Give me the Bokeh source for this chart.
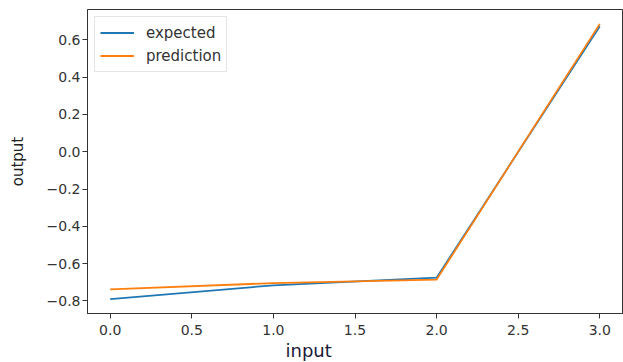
from bokeh.plotting import figure
from bokeh.models import Range1d, FixedTicker, Legend, LegendItem, Title
from bokeh.embed import file_html
from bokeh.resources import INLINE

# data
x_input = [0.0, 1.0, 2.0, 3.0]
expected = [-0.790, -0.716, -0.675, 0.672]
prediction = [-0.738, -0.704, -0.685, 0.685]

x_ticks = [0.0, 0.5, 1.0, 1.5, 2.0, 2.5, 3.0]
x_tick_labels = ["0.0", "0.5", "1.0", "1.5", "2.0", "2.5", "3.0"]
y_ticks = [-0.8, -0.6, -0.4, -0.2, 0.0, 0.2, 0.4, 0.6]
y_tick_labels = ["\u22120.8", "\u22120.6", "\u22120.4", "\u22120.2", "0.0", "0.2", "0.4", "0.6"]

FONT = "DejaVu Sans"

p = figure(width=623, height=362, output_backend="svg", toolbar_location=None,
           x_range=Range1d(-0.139, 3.139), y_range=Range1d(-0.867, 0.762),
           min_border_left=87, min_border_right=1, min_border_top=9, min_border_bottom=49)

p.background_fill_color = "white"
p.border_fill_color = "white"
p.outline_line_color = "#333333"
p.outline_line_width = 1
p.xgrid.visible = False
p.ygrid.visible = False

r1 = p.line(x_input, expected, line_color="#1f77b4", line_width=1.8)
r2 = p.line(x_input, prediction, line_color="#ff7f0e", line_width=1.8)

for ax in (p.xaxis[0], p.yaxis[0]):
    ax.axis_line_color = "#333333"
    ax.major_tick_line_color = "#333333"
    ax.minor_tick_line_color = None
    ax.major_tick_out = 5
    ax.major_tick_in = 0
    ax.major_label_text_font = FONT
    ax.major_label_text_font_size = "14px"
    ax.major_label_text_color = "#333333"

p.xaxis[0].ticker = FixedTicker(ticks=x_ticks)
p.xaxis[0].major_label_overrides = {t: l for t, l in zip(x_ticks, x_tick_labels)}
p.xaxis[0].major_label_standoff = 6

p.yaxis[0].ticker = FixedTicker(ticks=y_ticks)
p.yaxis[0].major_label_overrides = {t: l for t, l in zip(y_ticks, y_tick_labels)}
p.yaxis[0].major_label_standoff = 2
p.yaxis[0].axis_label = "output"
p.yaxis[0].axis_label_text_font = FONT
p.yaxis[0].axis_label_text_font_size = "15px"
p.yaxis[0].axis_label_text_font_style = "normal"
p.yaxis[0].axis_label_text_color = "#222222"
p.yaxis[0].axis_label_standoff = 17

xtitle = Title(text="input", align="left", offset=198, standoff=0,
               text_font=FONT, text_font_size="18px", text_font_style="normal",
               text_color="#1a1a3a")
p.add_layout(xtitle, "below")

legend = Legend(items=[LegendItem(label="expected", renderers=[r1]),
                       LegendItem(label="prediction", renderers=[r2])],
                location="top_left", margin=7, padding=5, spacing=2,
                glyph_width=34, glyph_height=21, label_height=21, label_standoff=12,
                label_text_font=FONT, label_text_font_size="15px", label_text_color="#333333",
                border_line_color="#cccccc", border_line_width=1,
                background_fill_color="white", background_fill_alpha=0.8)
p.add_layout(legend)

open("out.html", "w").write(file_html(p, INLINE))
